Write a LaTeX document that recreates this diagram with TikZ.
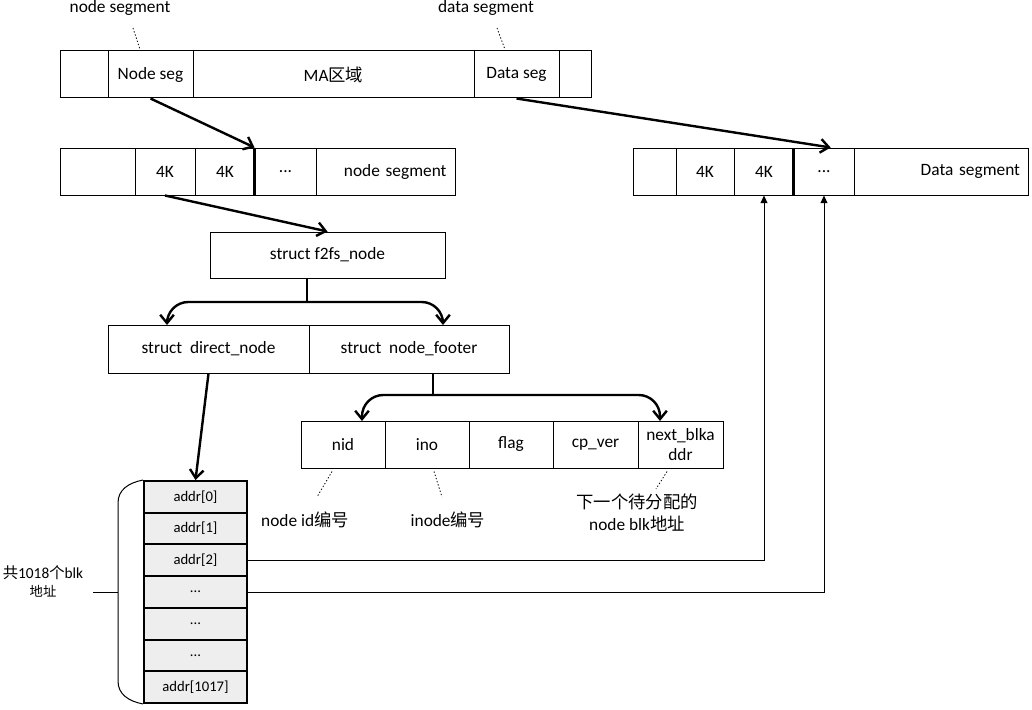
\documentclass[tikz,border=0pt]{standalone}
\usepackage{fontspec}
\setmainfont{Carlito}
\newfontfamily\cjk{Noto Sans CJK SC}
\usepackage{tikz}
\usetikzlibrary{arrows.meta, positioning, calc}
\definecolor{addrfill}{HTML}{EEEEEE}
\newcommand{\ellip}{...}

\begin{document}
\begin{tikzpicture}[x=0.75pt, y=-0.75pt, font=\fontsize{13pt}{15pt}\selectfont,
    cell/.style={rectangle, draw, line width=0.75pt, inner sep=0pt, minimum height=35.25pt},
    addrcell/.style={rectangle, draw, line width=1.5pt, fill=addrfill, inner sep=0pt, minimum width=77.25pt, minimum height=23.79pt, font=\fontsize{11pt}{13pt}\selectfont},
    arrow/.style={-{Straight Barb[length=2.2mm, width=3.6mm]}, line width=1.8pt},
    ptr/.style={-{Triangle[length=2mm, width=1.8mm]}, line width=0.75pt},
    note/.style={inner sep=1pt, align=center},
    dotline/.style={line width=0.6pt, dash pattern=on 1pt off 1.5pt}
]
\useasboundingbox (0,0) rectangle (1032,710);

% MA area (top)
\node[cell, minimum width=36pt] (t0) at (84,74.5) {};
\node[cell, minimum width=63.75pt] (ns) at (150.5,74.5) {Node seg};
\node[cell, minimum width=210.75pt] (ma) at (333.5,74.5) {MA{\cjk 区域}};
\node[cell, minimum width=63.75pt] (ds) at (516.5,74.5) {Data seg};
\node[cell, minimum width=24pt] (t4) at (575,74.5) {};
\node[note] (nsl) at (120,8) {node segment};
\node[note] (dsl) at (486,8) {data segment};
\draw[dotline] ([shift={(13,20)}]nsl.center) -- ([shift={(-10.5,-1)}]ns.north);
\draw[dotline] ([shift={(11,20)}]dsl.center) -- ([shift={(-11.5,-1)}]ds.north);

% node segment
\node[cell, minimum width=56.25pt] (n0) at (97.5,171.5) {};
\node[cell, minimum width=45pt] (n1) at (165,171.5) {4K};
\node[cell, minimum width=45pt] (n2) at (225,171.5) {4K};
\node[cell, minimum width=45.75pt] (n3) at (285.5,171.5) {\ellip};
\node[cell, minimum width=104.25pt, text width=91.5pt, align=right] (n4) at (385.5,171.5) {node segment};
\draw[line width=1.8pt] (n3.north west) -- (n3.south west);

% data segment
\node[cell, minimum width=32.25pt] (d0) at (654.5,171.5) {};
\node[cell, minimum width=43.5pt] (d1) at (705,171.5) {4K};
\node[cell, minimum width=45pt] (d2) at (764,171.5) {4K};
\node[cell, minimum width=45pt] (d3) at (824,171.5) {\ellip};
\node[cell, minimum width=130.5pt, text width=118.5pt, align=right] (d4) at (941,171.5) {Data segment};
\draw[line width=1.8pt] (d3.north west) -- (d3.south west);

\draw[arrow] (ns.south) -- (n3.north west);
\draw[arrow] (ds.south) -- ([xshift=5pt]d3.north);

% f2fs_node
\node[cell, minimum width=176.25pt, minimum height=34.5pt] (f2fs) at (327.5,255) {struct f2fs\_node};
\draw[arrow] (n1.south) -- (f2fs.north);

\node[cell, minimum width=150.75pt, minimum height=36pt] (direct) at (208.5,349) {struct\ \ direct\_node};
\node[cell, minimum width=150pt, minimum height=36pt] (footer) at (409,349) {struct\ \ node\_footer};

\coordinate (fsplit) at (307,302);
\coordinate (dl) at (167,325);
\coordinate (dr) at (443,325);
\draw[line width=1.8pt] (f2fs.south -| fsplit) -- (fsplit);
\draw[arrow, rounded corners=16pt] (fsplit) -| (dl);
\draw[arrow, rounded corners=16pt] (fsplit) -| (dr);

% node_footer fields
\node[cell, minimum width=63pt] (nid) at (343,444.5) {nid};
\node[cell, minimum width=63pt] (ino) at (427,444.5) {ino};
\node[cell, minimum width=63pt] (flag) at (511,444.5) {flag};
\node[cell, minimum width=63.75pt] (cpver) at (595.5,444.5) {cp\_ver};
\node[cell, minimum width=63.75pt, align=center] (next) at (680.5,444.5) {next\_blka\\ddr};

\coordinate (fsplit2) at (433,395);
\coordinate (fl) at (362,421);
\coordinate (fr) at (660,421);
\draw[line width=1.8pt] (footer.south -| fsplit2) -- (fsplit2);
\draw[arrow, rounded corners=16pt] (fsplit2) -| (fl);
\draw[arrow, rounded corners=16pt] (fsplit2) -| (fr);

\node[note] (nidl) at (305,520) {node id{\cjk 编号}};
\node[note] (inol) at (448,520) {inode{\cjk 编号}};
\node[note, font=\fontsize{13pt}{16.5pt}\selectfont] (nextl) at (637,513) {{\cjk 下一个待分配的}\\node blk{\cjk 地址}};
\draw[dotline] ([shift={(-11,3)}]nid.south) -- ([shift={(12,-23)}]nidl.center);
\draw[dotline] ([shift={(7,3)}]ino.south) -- ([shift={(-6,-23)}]inol.center);
\draw[dotline] ([shift={(-13.5,3)}]next.south) -- ([shift={(19,-24)}]nextl.center);

% addr array
\foreach \i/\t in {0/addr[0], 1/addr[1], 2/addr[2], 3/\ellip, 4/\ellip, 5/\ellip, 6/addr[1017]}
    \node[addrcell] (a\i) at (195.5, {496.86+\i*31.714}) {\t};

\draw[arrow] (direct.south) -- (a0.north);
\draw[ptr] (a2.east) -| (d2.south);
\draw[ptr] (a3.east) -| (d3.south);

% brace
\draw[line width=0.75pt] (a0.north west) .. controls (128,483) and (118,490) .. (118,503) -- (118,681) .. controls (118,694) and (128,701) .. (a6.south west);
\coordinate (brtip) at (118,592);
\draw[line width=0.75pt] (brtip) -- ++(-25,0);
\node[note, font=\fontsize{11.5pt}{13.5pt}\selectfont] (total) at (43,581) {{\cjk 共}1018{\cjk 个}blk\\{\fontsize{10pt}{12pt}\selectfont\cjk 地址}};

\end{tikzpicture}
\end{document}
